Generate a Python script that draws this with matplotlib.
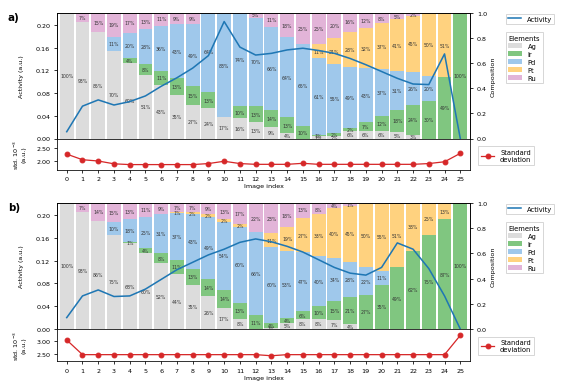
import numpy as np
import matplotlib
matplotlib.use('Agg')
import matplotlib.pyplot as plt
from matplotlib.patches import Patch
from matplotlib.lines import Line2D
from matplotlib.ticker import FormatStrFormatter

elements = ['Ag', 'Ir', 'Pd', 'Pt', 'Ru']
el_colors = ['#dcdcdc', '#80c680', '#9fc8eb', '#ffd27f', '#e2b4d8']
index = np.arange(26)

# composition in %, columns: Ag, Ir, Pd, Pt, Ru
comp_a = [
    [100, 0, 0, 0, 0], [93, 0, 0, 0, 7], [85, 0, 0, 0, 15], [70, 0, 11, 0, 19],
    [60, 4, 20, 0, 17], [51, 8, 28, 0, 13], [43, 11, 36, 0, 11], [35, 13, 43, 0, 9],
    [27, 15, 49, 0, 9], [24, 13, 64, 0, 0], [17, 0, 83, 0, 0], [16, 10, 74, 0, 0],
    [13, 13, 70, 0, 5], [9, 14, 66, 0, 11], [4, 13, 64, 0, 18], [0, 10, 65, 0, 25],
    [2, 1, 61, 11, 25], [2, 2, 55, 21, 20], [6, 2, 49, 28, 16], [6, 7, 43, 32, 12],
    [6, 12, 37, 37, 8], [5, 18, 31, 41, 5], [3, 24, 26, 45, 2], [0, 30, 20, 50, 0],
    [0, 49, 0, 51, 0], [0, 100, 0, 0, 0],
]
activity_a = [0.012, 0.057, 0.068, 0.059, 0.065, 0.075, 0.092, 0.107, 0.124, 0.146,
              0.206, 0.161, 0.147, 0.150, 0.156, 0.159, 0.155, 0.150, 0.141, 0.130,
              0.118, 0.106, 0.096, 0.095, 0.149, 0.0]
std_a = [2.26, 2.04, 1.99, 1.88, 1.85, 1.85, 1.85, 1.85, 1.85, 1.89, 1.98, 1.89, 1.86,
         1.86, 1.86, 1.90, 1.86, 1.86, 1.86, 1.86, 1.86, 1.86, 1.86, 1.89, 1.96, 2.29]

comp_b = [
    [100, 0, 0, 0, 0], [93, 0, 0, 0, 7], [86, 0, 0, 0, 14], [75, 0, 10, 0, 15],
    [68, 1, 18, 0, 13], [60, 4, 25, 0, 11], [52, 8, 31, 0, 9], [44, 11, 37, 1, 7],
    [35, 13, 43, 2, 7], [26, 14, 49, 2, 9], [17, 14, 54, 2, 13], [8, 13, 60, 2, 17],
    [0, 11, 66, 0, 22], [1, 4, 60, 11, 23], [5, 4, 53, 19, 18], [8, 6, 47, 27, 13],
    [8, 10, 40, 33, 8], [7, 15, 34, 40, 4], [4, 21, 28, 45, 1], [0, 27, 22, 50, 0],
    [0, 35, 11, 55, 0], [0, 49, 0, 51, 0], [0, 62, 0, 38, 0], [0, 75, 0, 25, 0],
    [0, 87, 0, 13, 0], [0, 100, 0, 0, 0],
]
activity_b = [0.020, 0.058, 0.0685, 0.057, 0.058, 0.070, 0.087, 0.104, 0.117, 0.130,
              0.140, 0.152, 0.158, 0.153, 0.145, 0.135, 0.1215, 0.108, 0.098, 0.0945,
              0.108, 0.151, 0.140, 0.106, 0.058, 0.0]
std_b = [3.02, 2.49, 2.49, 2.49, 2.49, 2.49, 2.49, 2.49, 2.49, 2.49, 2.49, 2.49, 2.49,
         2.45, 2.49, 2.49, 2.49, 2.49, 2.49, 2.49, 2.49, 2.49, 2.49, 2.49, 2.49, 3.19]

FS = 6.5
LFS = 7
fig = plt.figure(figsize=(8.1, 5.514), dpi=70)
L, W = 0.1005, 0.7285


def draw_panel(main_rect, std_rect, comp, activity, std, tag, std_lim, std_ticks, dy):
    ax = fig.add_axes(main_rect)
    ax2 = ax.twinx()
    comp = np.array(comp) / 100.0
    bottom = np.zeros(len(index))
    for k, el in enumerate(elements):
        vals = comp[:, k]
        ax.bar(index, vals, width=0.88, bottom=bottom, color=el_colors[k], label=el)
        for i in index:
            if vals[i] > 0:
                ax.text(i, bottom[i] + vals[i] / 2, f'{round(vals[i] * 100)}%',
                        ha='center', va='center', fontsize=4.8, color='#333333')
        bottom += vals
    ax.set_ylim(0, 1)
    ax.set_xlim(-0.62, 25.62)
    ax.yaxis.tick_right()
    ax.yaxis.set_label_position('right')
    ax.set_yticks(np.arange(0, 1.01, 0.2))
    ax.yaxis.set_major_formatter(FormatStrFormatter('%.1f'))
    ax.set_ylabel('Composition', fontsize=FS)
    ax.tick_params(axis='y', labelsize=FS)
    ax.tick_params(axis='x', length=0, labelbottom=False)

    ax2.plot(index, activity, color='#1f77b4', lw=1.6)
    ax2.set_ylim(0, 0.221)
    ax2.yaxis.tick_left()
    ax2.yaxis.set_label_position('left')
    ax2.set_yticks(np.arange(0, 0.201, 0.04))
    ax2.yaxis.set_major_formatter(FormatStrFormatter('%.2f'))
    ax2.set_ylabel('Activity (a.u.)', fontsize=FS)
    ax2.yaxis.set_label_coords(-0.08, 0.5)
    ax2.tick_params(axis='y', labelsize=FS)

    axs = fig.add_axes(std_rect, sharex=ax)
    axs.plot(index, std, color='#d62728', marker='o', ms=5, lw=1.3)
    axs.set_ylim(*std_lim)
    axs.set_yticks(std_ticks)
    axs.yaxis.set_major_formatter(FormatStrFormatter('%.2f'))
    axs.set_xticks(index)
    axs.tick_params(labelsize=FS)
    axs.set_xlabel('Image index', fontsize=FS, labelpad=2)
    axs.set_ylabel('std. $10^{-3}$\n(a.u.)', fontsize=FS, linespacing=1.0)
    axs.yaxis.set_label_coords(-0.075, 0.5)

    fig.text(0.014, main_rect[1] + main_rect[3] + 0.002, tag, fontsize=10.5,
             fontweight='bold', va='top')

    act_handle = [Line2D([], [], color='#1f77b4', lw=1.6, label='Activity')]
    fig.legend(handles=act_handle, loc='upper left', fontsize=LFS,
               bbox_to_anchor=(0.892, 0.962 - dy), borderaxespad=0,
               handlelength=2.0, borderpad=0.3, edgecolor='#cccccc', fancybox=False)
    el_handles = [Patch(facecolor=c, label=e) for e, c in zip(elements, el_colors)]
    fig.legend(handles=el_handles, title='Elements', loc='upper left', fontsize=LFS,
               title_fontsize=LFS, bbox_to_anchor=(0.892, 0.915 - dy),
               borderaxespad=0, handlelength=2.0, borderpad=0.4, labelspacing=0.3,
               edgecolor='#cccccc', fancybox=False, alignment='left')
    std_handle = [Line2D([], [], color='#d62728', marker='o', ms=5, lw=1.3,
                         label='Standard\ndeviation')]
    leg = fig.legend(handles=std_handle, loc='upper left', fontsize=LFS,
                     bbox_to_anchor=(0.843, std_rect[1] + std_rect[3] - 0.02),
                     borderaxespad=0, handlelength=2.0, borderpad=0.4,
                     edgecolor='#cccccc', fancybox=False)
    leg.get_texts()[0].set_multialignment('center')


draw_panel([L, 0.6386, W, 0.3251], [L, 0.5578, W, 0.0808], comp_a, activity_a, std_a,
           'a)', (1.65, 2.87), [2.0, 2.5], 0.0)
draw_panel([L, 0.1451, W, 0.3264], [L, 0.0622, W, 0.0829], comp_b, activity_b, std_b,
           'b)', (2.26, 3.42), [2.5, 3.0], 0.4922)

fig.savefig('out.png', dpi=70)
